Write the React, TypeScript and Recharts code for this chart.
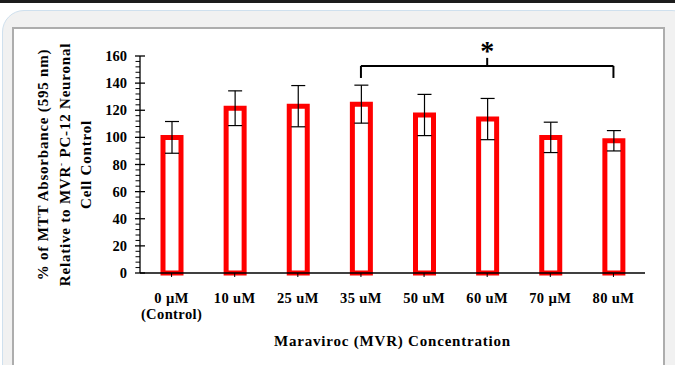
import React from 'react';
import { BarChart, Bar, XAxis, YAxis, ErrorBar, ReferenceLine, ReferenceDot } from 'recharts';

// MTT viability, % of control, mean +/- error
const categories = ['0 µM\n(Control)', '10 uM', '25 uM', '35 uM', '50 uM', '60 uM', '70 µM', '80 uM'];
const meanValues = [100, 121.5, 123, 124.5, 116.5, 113.5, 100, 97.5];
const errorValues = [11.7, 12.8, 15.2, 14, 15.2, 15.2, 11.2, 7.5];

const yMajorTicks = [0, 20, 40, 60, 80, 100, 120, 140, 160];
const yMinorTicks = [4, 8, 12, 16, 24, 28, 32, 36, 44, 48, 52, 56, 64, 68, 72, 76, 84, 88, 92, 96,
  104, 108, 112, 116, 124, 128, 132, 136, 144, 148, 152, 156];

// significance bracket (35 uM .. 80 uM)
const bracketStart = '35 uM';
const bracketEnd = '80 uM';
const bracketMid = '60 uM';
const bracketY = 152.7;
const bracketLegY = 143.8;
const bracketNotchY = 158.6;
const starY = 166.5;

const data = categories.map((name, i) => ({ name, value: meanValues[i], err: errorValues[i] }));
const allYTicks = [...yMajorTicks, ...yMinorTicks].sort((a, b) => a - b);

const FONT = '"Liberation Serif", "Times New Roman", serif';
const TICK_SIZE = 5;
const TICK_MARGIN = 8;

const YTick = (props: any) => {
  const { x, y, payload } = props;
  const ax = x + TICK_SIZE + TICK_MARGIN; // axis line x
  const major = yMajorTicks.includes(payload.value);
  if (!major) {
    return <line x1={ax - 4.5} x2={ax} y1={y} y2={y} stroke="#000" strokeWidth={1} />;
  }
  return (
    <g>
      <line x1={ax - 5} x2={ax + 5} y1={y} y2={y} stroke="#000" strokeWidth={1.3} />
      <text x={x} y={y} dy={5} textAnchor="end" fontFamily={FONT} fontWeight="bold" fontSize={14.5} fill="#000">
        {payload.value}
      </text>
    </g>
  );
};

const XTick = (props: any) => {
  const { x, y, payload } = props;
  const lines = String(payload.value).split('\n');
  return (
    <text x={x} y={y} textAnchor="middle" fontFamily={FONT} fontWeight="bold" fontSize={14.5} letterSpacing={0.4} fill="#000">
      {lines.map((l, i) => (
        <tspan key={i} x={x} dy={i === 0 ? 24 : 16}>{l}</tspan>
      ))}
    </text>
  );
};

const YTitle = (props: any) => {
  const { viewBox } = props;
  const cy = viewBox.y + viewBox.height / 2;
  const vx = viewBox.x;
  const style = { fontFamily: FONT, fontWeight: 'bold' as const, fontSize: 15, letterSpacing: 0.8, fill: '#000' };
  const rot = (lx: number) => `rotate(-90, ${lx}, ${cy})`;
  return (
    <g>
      <text x={vx + 48} y={cy} textAnchor="middle" transform={rot(vx + 48)} {...style}>
        % of MTT Absorbance (595 nm)
      </text>
      <text x={vx + 70} y={cy} textAnchor="middle" transform={rot(vx + 70)} {...style}>
        Relative to MVR<tspan fontSize={9} dy={-6}>-</tspan>
        <tspan dy={6}> PC-12 Neuronal</tspan>
      </text>
      <text x={vx + 91} y={cy} textAnchor="middle" transform={rot(vx + 91)} {...style}>
        Cell Control
      </text>
    </g>
  );
};

const Star = (props: any) => (
  <text x={props.cx} y={props.cy} dy={13} textAnchor="middle" fontFamily={FONT} fontWeight="bold" fontSize={28} fill="#000">
    *
  </text>
);

export default function App() {
  return (
    <div style={{ position: 'absolute', left: 0, top: 0, width: 675, height: 365, overflow: 'hidden', background: '#fff' }}>
      <div style={{ position: 'absolute', left: 0, top: 0, width: 675, height: 3, background: '#1c1c1c' }} />
      <div
        style={{
          position: 'absolute', left: 2, top: 10, width: 690, height: 420,
          border: '1px solid #cfe0ee', borderRadius: 22, background: '#f1f1f1',
        }}
      />
      <div
        style={{
          position: 'absolute', left: 12, top: 27, width: 649, height: 400,
          border: '2px solid #adadad', background: '#fff',
        }}
      />
      <div style={{ position: 'absolute', left: 0, top: 0 }}>
        <BarChart width={675} height={365} data={data} margin={{ top: 56, right: 30, bottom: 0, left: 0 }}>
          <XAxis
            dataKey="name"
            height={92}
            interval={0}
            tick={<XTick />}
            tickSize={4}
            tickMargin={2}
            axisLine={{ stroke: '#000', strokeWidth: 1.3 }}
            tickLine={{ stroke: '#000', strokeWidth: 1 }}
            label={{
              value: 'Maraviroc (MVR) Concentration', position: 'insideBottom', offset: 19,
              style: { fontFamily: FONT, fontWeight: 'bold', fontSize: 15, letterSpacing: 0.8, fill: '#000' },
            }}
          />
          <YAxis
            width={140}
            domain={[0, 160]}
            ticks={allYTicks}
            interval={0}
            tick={<YTick />}
            tickSize={TICK_SIZE}
            tickMargin={TICK_MARGIN}
            tickLine={false}
            axisLine={{ stroke: '#000', strokeWidth: 1.3 }}
            label={<YTitle />}
          />
          <Bar dataKey="value" barSize={18} fill="#fff" stroke="#ff0000" strokeWidth={5} isAnimationActive={false}>
            <ErrorBar dataKey="err" width={7} stroke="#000" strokeWidth={1.2} isAnimationActive={false} />
          </Bar>
          <ReferenceLine
            segment={[{ x: bracketStart, y: bracketY }, { x: bracketEnd, y: bracketY }]}
            stroke="#000" strokeWidth={2} ifOverflow="visible"
          />
          <ReferenceLine
            segment={[{ x: bracketStart, y: bracketLegY }, { x: bracketStart, y: bracketY }]}
            stroke="#000" strokeWidth={2} ifOverflow="visible"
          />
          <ReferenceLine
            segment={[{ x: bracketEnd, y: bracketLegY }, { x: bracketEnd, y: bracketY }]}
            stroke="#000" strokeWidth={2} ifOverflow="visible"
          />
          <ReferenceLine
            segment={[{ x: bracketMid, y: bracketY }, { x: bracketMid, y: bracketNotchY }]}
            stroke="#000" strokeWidth={2} ifOverflow="visible"
          />
          <ReferenceDot x={bracketMid} y={starY} r={0} ifOverflow="visible" shape={<Star />} />
        </BarChart>
      </div>
    </div>
  );
}
